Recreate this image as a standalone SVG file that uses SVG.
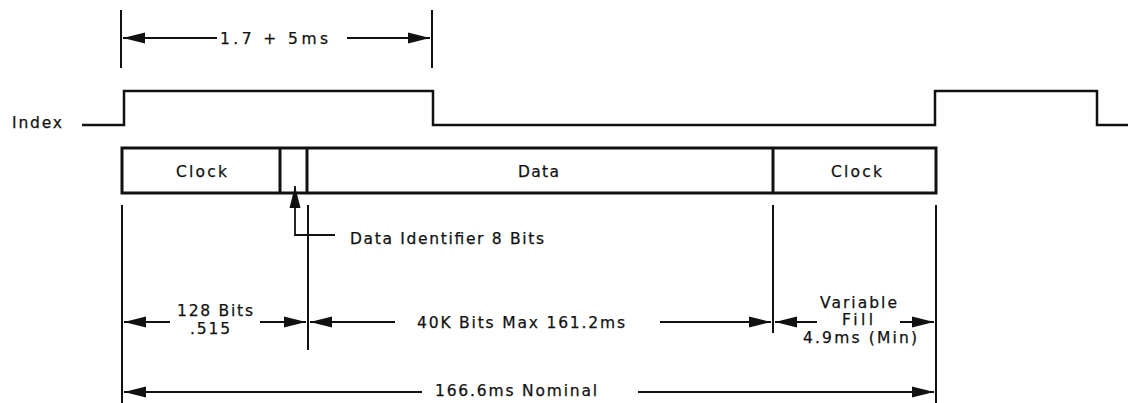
<svg xmlns="http://www.w3.org/2000/svg" width="1128" height="403" viewBox="0 0 1128 403">
<style>
text{font-family:"DejaVu Sans","Liberation Sans",Arial,sans-serif;font-size:15.5px;fill:#111;stroke:#111;stroke-width:0.25;}
.wave{fill:none;stroke:#111;stroke-width:2.5;}
.box{fill:#fff;stroke:#111;stroke-width:3;}
.ext{stroke:#111;stroke-width:2;fill:none;}
.dim{stroke:#111;stroke-width:1.8;fill:none;marker-end:url(#ah);}
</style>
<defs>
<marker id="ah" markerUnits="userSpaceOnUse" markerWidth="24" markerHeight="14" refX="22" refY="7" orient="auto">
<path d="M0,1.5 L22,7 L0,12.5 z" fill="#111"/>
</marker>
</defs>
<rect width="1128" height="403" fill="#fff"/>
<g id="index">
<text x="12" y="128" textLength="50" lengthAdjust="spacing">Index</text>
<path class="wave" d="M82,125 H124 V91 H433 V125 H935 V91 H1097 V125 H1128"/>
</g>
<g id="pulse-width">
<line class="ext" x1="121" y1="10" x2="121" y2="68" stroke-width="2.5"/>
<line class="ext" x1="432" y1="10" x2="432" y2="68" stroke-width="2.5"/>
<text x="220" y="44" textLength="108" lengthAdjust="spacing">1.7 + 5ms</text>
</g>
<g id="frame">
<rect class="box" x="122" y="148" width="814" height="45"/>
<line class="box" x1="280" y1="148" x2="280" y2="193"/>
<line class="box" x1="307" y1="148" x2="307" y2="193"/>
<line class="box" x1="773" y1="148" x2="773" y2="193"/>
</g>
<g id="clock1"><text x="176" y="177" textLength="51" lengthAdjust="spacing">Clock</text></g>
<g id="data"><text x="518" y="177" textLength="41" lengthAdjust="spacing">Data</text></g>
<g id="clock2"><text x="831" y="177" textLength="51" lengthAdjust="spacing">Clock</text></g>
<g id="data-identifier">
<text x="350" y="244" textLength="194" lengthAdjust="spacing">Data Identifier 8 Bits</text>
</g>
<g id="extension-lines">
<line class="ext" x1="122" y1="205" x2="122" y2="403"/>
<line class="ext" x1="308" y1="205" x2="308" y2="350"/>
<line class="ext" x1="773" y1="205" x2="773" y2="333"/>
<line class="ext" x1="936" y1="205" x2="936" y2="403"/>
</g>
<g id="labels">
<text x="177" y="316" textLength="76" lengthAdjust="spacing">128 Bits</text>
<text x="190" y="334" textLength="40" lengthAdjust="spacing">.515</text>
<text x="417" y="328" textLength="208" lengthAdjust="spacing">40K Bits Max 161.2ms</text>
<text x="820" y="308" textLength="77" lengthAdjust="spacing">Variable</text>
<text x="842" y="325" textLength="31" lengthAdjust="spacing">Fill</text>
<text x="803" y="343" textLength="114" lengthAdjust="spacing">4.9ms (Min)</text>
<text x="435" y="396" textLength="162" lengthAdjust="spacing">166.6ms Nominal</text>
</g>
<g id="connectors">
<line class="dim" x1="217" y1="38" x2="123" y2="38"/>
<line class="dim" x1="347" y1="38" x2="430" y2="38"/>
<path class="dim" d="M335,235 H295 V186" stroke-width="2"/>
<line class="dim" x1="170" y1="322" x2="124" y2="322"/>
<line class="dim" x1="260" y1="322" x2="306" y2="322"/>
<line class="dim" x1="395" y1="322" x2="310" y2="322"/>
<line class="dim" x1="660" y1="322" x2="771" y2="322"/>
<line class="dim" x1="817" y1="322" x2="775" y2="322"/>
<line class="dim" x1="900" y1="322" x2="934" y2="322"/>
<line class="dim" x1="422" y1="392" x2="124" y2="392"/>
<line class="dim" x1="638" y1="392" x2="934" y2="392"/>
</g>
</svg>
